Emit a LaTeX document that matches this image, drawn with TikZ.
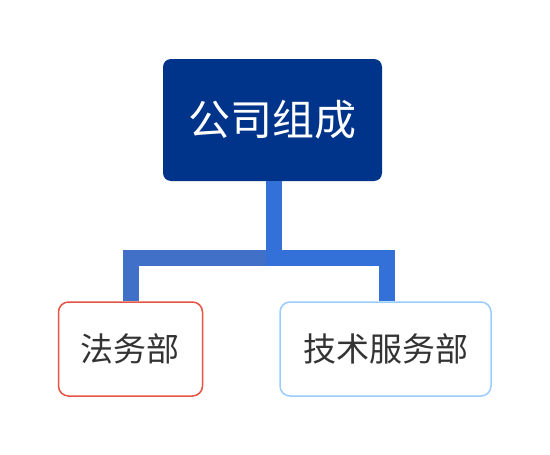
\documentclass[tikz,border=0pt]{standalone}
\usepackage{fontspec}
\newfontfamily\cjk{Noto Sans CJK SC}
\definecolor{topblue}{HTML}{00338A}
\definecolor{connA}{HTML}{4170C8}
\definecolor{connB}{HTML}{3370D8}
\definecolor{legalred}{HTML}{E55342}
\definecolor{techblue}{HTML}{99CCFF}
\definecolor{txt}{HTML}{333333}
\begin{document}
\begin{tikzpicture}[x=1pt,y=-1pt,
  topbox/.style={fill=topblue,rounded corners=8pt,minimum width=219pt,minimum height=122pt,inner sep=0pt,text=white,font=\cjk\fontsize{42}{50}\selectfont},
  deptbox/.style={fill=white,rounded corners=10pt,line width=1.5pt,minimum height=94pt,inner sep=0pt,text=txt,font=\cjk\fontsize{33}{40}\selectfont},
  conn/.style={line width=16pt,line join=miter}]
\useasboundingbox (0,0) rectangle (550,455);
\coordinate (j) at (274,258);
\node[topbox] (top) at (272.5,120) {公司组成};
\node[deptbox,draw=legalred,minimum width=144pt] (legal) at (130.5,349) {法务部};
\node[deptbox,draw=techblue,minimum width=211pt] (tech) at (385.5,349) {技术服务部};
\draw[conn,connA] ([xshift=0.5pt]legal.north) |- ([xshift=8pt]j);
\draw[conn,connB] ([xshift=-8pt]j) -| ([xshift=1pt]tech.north);
\draw[conn,connB] (top.south -| j) -- ([yshift=-8pt]j);
\end{tikzpicture}
\end{document}
